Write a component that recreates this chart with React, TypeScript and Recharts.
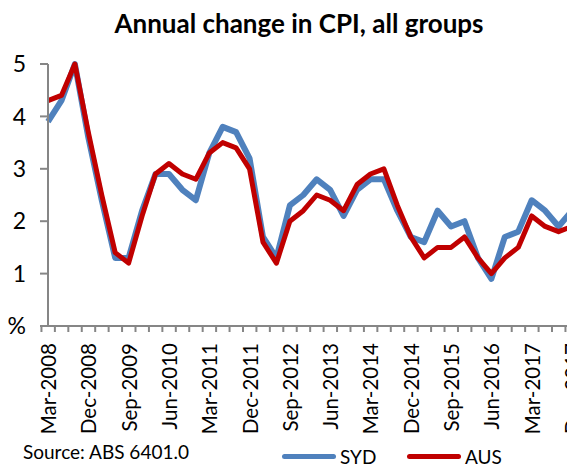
import { LineChart, Line, XAxis, YAxis, Legend } from "recharts";

const FONT = "Lato, 'DejaVu Sans', sans-serif";

const months = ["Mar", "Jun", "Sep", "Dec"];
const years = [2008, 2009, 2010, 2011, 2012, 2013, 2014, 2015, 2016, 2017];
const quarters = years.flatMap((y) => months.map((m) => `${m}-${y}`));

const syd = [
  3.9, 4.3, 5.0, 3.6, 2.4, 1.3, 1.3, 2.2, 2.9, 2.9, 2.6, 2.4, 3.3, 3.8, 3.7,
  3.2, 1.7, 1.3, 2.3, 2.5, 2.8, 2.6, 2.1, 2.6, 2.8, 2.8, 2.2, 1.7, 1.6, 2.2,
  1.9, 2.0, 1.3, 0.9, 1.7, 1.8, 2.4, 2.2, 1.9, 2.2,
];
const aus = [
  4.3, 4.4, 5.0, 3.7, 2.5, 1.4, 1.2, 2.1, 2.9, 3.1, 2.9, 2.8, 3.3, 3.5, 3.4,
  3.0, 1.6, 1.2, 2.0, 2.2, 2.5, 2.4, 2.2, 2.7, 2.9, 3.0, 2.3, 1.7, 1.3, 1.5,
  1.5, 1.7, 1.3, 1.0, 1.3, 1.5, 2.1, 1.9, 1.8, 1.9,
];
const yTicks = [0, 1, 2, 3, 4, 5];

const data = quarters.map((q, i) => ({ q, SYD: syd[i], AUS: aus[i] }));

const W = 580;
const LEFT = 48;
const RIGHT = 8;
const STEP = (W - LEFT - RIGHT) / quarters.length;
const AXIS = "#868686";

function QuarterTick(props: any) {
  const { x, y, payload, index } = props;
  return (
    <g>
      <line x1={x - STEP / 2} x2={x - STEP / 2} y1={y} y2={y + 6} stroke={AXIS} strokeWidth={2} />
      {index === quarters.length - 1 && (
        <line x1={x + STEP / 2} x2={x + STEP / 2} y1={y} y2={y + 6} stroke={AXIS} strokeWidth={2} />
      )}
      {index % 3 === 0 && (
        <text
          x={0}
          y={0}
          transform={`translate(${x + 8},${y + 17}) rotate(-90)`}
          textAnchor="end"
          fontSize={20.5}
          fontFamily={FONT}
          fill="#000"
        >
          {payload.value}
        </text>
      )}
    </g>
  );
}

function Key() {
  const item = (label: string, color: string) => (
    <span style={{ display: "inline-flex", alignItems: "center" }}>
      <span
        style={{
          display: "inline-block",
          width: 54,
          height: 5,
          borderRadius: 3,
          background: color,
          marginRight: 4,
        }}
      />
      {label}
    </span>
  );
  return (
    <div
      style={{
        fontFamily: FONT,
        fontSize: 19,
        lineHeight: "20px",
        color: "#000",
        position: "relative",
        height: 20,
        width: 567,
      }}
    >
      <span style={{ position: "absolute", left: 23, top: 0 }}>Source: ABS 6401.0</span>
      <span style={{ position: "absolute", left: 282, top: 0 }}>{item("SYD", "#4F81BD")}</span>
      <span style={{ position: "absolute", left: 407, top: 0 }}>{item("AUS", "#C00000")}</span>
    </div>
  );
}

export default function App() {
  return (
    <div
      style={{
        position: "absolute",
        left: 0,
        top: 0,
        width: 567,
        height: 464,
        overflow: "hidden",
        background: "#fff",
      }}
    >
      <div
        style={{
          position: "absolute",
          top: 7,
          left: 0,
          width: 598,
          textAlign: "center",
          fontFamily: FONT,
          fontWeight: 700,
          fontSize: 26,
          color: "#000",
        }}
      >
        Annual change in CPI, all groups
      </div>
      <LineChart
        width={W}
        height={464}
        data={data}
        margin={{ top: 64, right: RIGHT, left: 0, bottom: 0 }}
      >
        <XAxis
          dataKey="q"
          interval={0}
          tickSize={0}
          tickMargin={0}
          tickLine={false}
          height={138}
          axisLine={{ stroke: AXIS, strokeWidth: 2 }}
          tick={<QuarterTick />}
        />
        <YAxis
          domain={[0, 5]}
          ticks={yTicks}
          width={LEFT}
          tickSize={8}
          tickMargin={14}
          axisLine={{ stroke: AXIS, strokeWidth: 2 }}
          tickLine={{ stroke: AXIS, strokeWidth: 2 }}
          tickFormatter={(v: number) => (v === 0 ? "%" : String(v))}
          tick={{ fontSize: 23, fontFamily: FONT, fill: "#000" }}
        />
        <Legend
          verticalAlign="middle"
          layout="horizontal"
          wrapperStyle={{ top: 442, left: 0, width: 567 }}
          content={<Key />}
        />
        <Line
          dataKey="SYD"
          stroke="#4F81BD"
          strokeWidth={6}
          dot={false}
          strokeLinejoin="round"
          isAnimationActive={false}
        />
        <Line
          dataKey="AUS"
          stroke="#C00000"
          strokeWidth={5}
          dot={false}
          strokeLinejoin="round"
          isAnimationActive={false}
        />
      </LineChart>
    </div>
  );
}
